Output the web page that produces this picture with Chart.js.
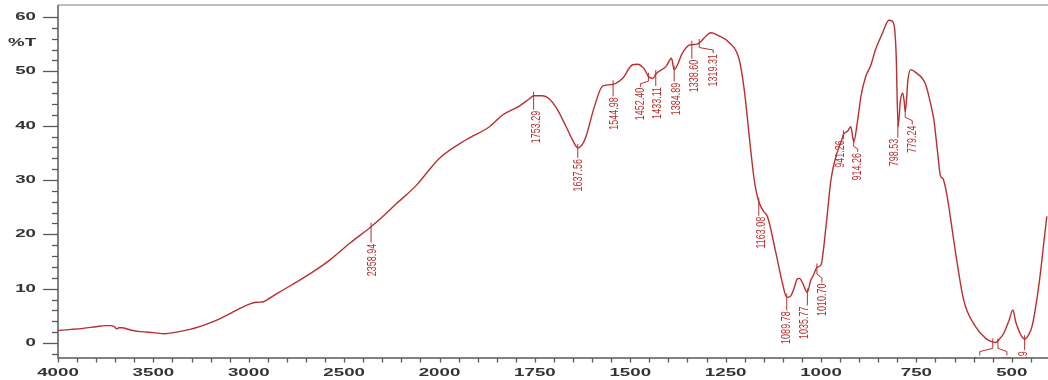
<!DOCTYPE html>
<html><head><meta charset="utf-8">
<script src="https://cdn.jsdelivr.net/npm/chart.js@4.4.1/dist/chart.umd.min.js"></script>
<style>html,body{margin:0;padding:0;background:#fff;overflow:hidden}#wrap{width:1048px;height:380px}</style>
</head><body><div id="wrap"><canvas id="c" width="1048" height="380"></canvas></div>
<script>
// ---- data (wavenumber cm-1, %T) ----
const wavenumbers = [4000,3930,3869,3800,3750,3727,3705,3692,3680,3666,3620,3570,3500,3439,3380,3308,3250,3203,3150,3098,3050,2993,2960,2923,2880,2818,2731,2650,2574,2469,2359,2290,2224,2119,2060,2000,1930,1869,1834,1791,1765,1753,1730,1712,1694,1668,1650,1637,1625,1616,1594,1572,1545,1520,1494,1481,1463,1452,1440,1433,1406,1392,1385,1363,1346,1338,1325,1319,1300,1289,1267,1241,1215,1201,1188,1175,1163,1150,1140,1118,1101,1090,1080,1071,1062,1056,1048,1036,1027,1019,1011,1000,987,974,961,945,941,930,922,914,905,895,883,870,857,839,822,815,808,803,798,792,786,782,779,772,765,752,726,708,704,695,687,680,672,665,647,626,595,569,555,543,530,521,507,497,490,482,474,466,456,447,436,425,416,408];
const transmittance = [2.3,2.5,2.7,3.0,3.2,3.2,3.0,2.6,2.8,2.8,2.4,2.1,1.9,1.7,2.0,2.5,3.1,3.7,4.5,5.4,6.3,7.2,7.5,7.6,8.5,9.8,11.6,13.4,15.3,18.4,21.4,23.5,25.7,29.1,31.6,34.0,37.4,39.8,42.0,43.6,44.9,45.5,45.5,44.9,43.3,39.8,37.2,35.9,36.6,38.0,43.5,47.3,47.6,48.7,51.2,51.3,50.4,49.0,48.7,49.5,50.9,52.4,50.3,53.4,54.8,54.9,55.0,55.2,56.6,57.1,56.5,55.3,52.3,46.5,38.0,30.0,26.0,24.2,23.2,16.5,11.0,8.4,8.6,10.0,11.8,11.9,11.0,9.3,11.5,12.6,13.9,14.4,21.4,30.0,34.3,37.5,38.4,39.0,39.8,37.0,40.5,45.5,49.0,51.0,54.0,57.0,59.4,59.3,58.3,53.0,39.8,44.5,46.0,44.5,42.6,48.5,50.3,49.8,47.6,42.5,41.0,35.5,30.8,30.2,28.0,25.1,16.5,7.9,3.0,0.9,0.3,0.1,0.9,1.8,4.2,6.1,4.0,2.4,1.2,0.7,1.5,3.0,7.2,12.8,18.5,23.3];

const xTickLabels = [4000,3500,3000,2500,2000,1750,1500,1250,1000,750,500];
const yTickLabels = [0,10,20,30,40,50,60];

const peakWaves  = [2358.94,1753.29,1637.56,1544.98,1452.40,1433.11,1384.89,1338.60,1319.31,1163.08,1089.78,1035.77,1010.70,941.26,914.26,798.53,779.24,549.77,536.26,466.19];
const peakLabels = ["2358.94","1753.29","1637.56","1544.98","1452.40","1433.11","1384.89","1338.60","1319.31","1163.08","1089.78","1035.77","1010.70","941.26","914.26","798.53","779.24","549.77","536.26","466.19"];
const peakT      = [21.4,45.5,35.9,47.6,49.0,49.5,50.3,54.9,55.2,26.0,8.4,9.3,13.9,38.4,37.0,39.8,42.6,0.1,0.1,0.7];

// annotation layout: [text dx, text dy] in px relative to the marked point
const peakLayout = [[1,16],[3,14],[1,10],[1,12],[-8,10],[2,12],[2,12],[3,14],[14,10],[3,14],[0,13],[-3,13],[5,15],[-3,5],[4,10],[-3,11],[7,13],[-13,13],[9,13],[-1,11]];

// broken axis: 4000-2000 compressed, 2000-400 expanded x2
function toAxis(w){ return w >= 2000 ? 4000 - w : 2000 + 2*(2000 - w); }

const RED = '#b8302e';
const AXIS = '#5a5a5a';
const TXT = '#333';

function stretchedText(ctx, txt, x, y, sx, align, baseline){
  ctx.save();
  ctx.translate(x, y);
  ctx.scale(sx, 1);
  ctx.textAlign = align; ctx.textBaseline = baseline;
  ctx.fillText(txt, 0, 0);
  ctx.restore();
}

const decor = {
  id: 'decor',
  afterDraw(chart){
    const ctx = chart.ctx, xs = chart.scales.x, ys = chart.scales.y, a = chart.chartArea;
    ctx.save();
    // frame
    ctx.strokeStyle = '#a8a8a8'; ctx.lineWidth = 1.5;
    ctx.beginPath(); ctx.moveTo(a.left, a.top); ctx.lineTo(a.right, a.top); ctx.stroke();
    ctx.strokeStyle = AXIS; ctx.lineWidth = 1.5;
    ctx.beginPath(); ctx.moveTo(a.left, a.top); ctx.lineTo(a.left, a.bottom); ctx.lineTo(a.right, a.bottom); ctx.stroke();
    // y ticks
    ctx.lineWidth = 1.3;
    for (let v = -2; v <= 60; v += 2){
      const y = Math.round(ys.getPixelForValue(v)) + 0.5;
      const len = (v % 10 === 0) ? 15 : 6;
      ctx.beginPath(); ctx.moveTo(a.left - len, y); ctx.lineTo(a.left, y); ctx.stroke();
    }
    ctx.fillStyle = TXT;
    ctx.font = 'bold 11px "Liberation Sans", Arial, sans-serif';
    yTickLabels.forEach(v => {
      stretchedText(ctx, String(v), 36, ys.getPixelForValue(v), 1.7, 'right', 'middle');
    });
    stretchedText(ctx, '%T', 8, ys.getPixelForValue(55.3), 1.7, 'left', 'middle');
    // x ticks
    for (let u = 0; u <= xs.max; u += 100){
      const x = Math.round(xs.getPixelForValue(u)) + 0.5;
      ctx.beginPath(); ctx.moveTo(x, a.bottom); ctx.lineTo(x, a.bottom + 4.5); ctx.stroke();
    }
    xTickLabels.forEach(w => {
      stretchedText(ctx, String(w), xs.getPixelForValue(toAxis(w)), 373, 1.7, 'center', 'middle');
    });
    // peak annotations
    ctx.beginPath(); ctx.rect(a.left, a.top, a.right - a.left, a.bottom - a.top); ctx.clip();
    ctx.strokeStyle = RED; ctx.fillStyle = RED; ctx.lineWidth = 1;
    ctx.font = '9px "Liberation Sans", Arial, sans-serif';
    peakWaves.forEach((w, i) => {
      const px = xs.getPixelForValue(toAxis(w));
      const py = ys.getPixelForValue(peakT[i]);
      const [dx, dy] = peakLayout[i];
      const tx = px + dx, ty = py + dy;
      ctx.beginPath();
      ctx.moveTo(px, py - 4);
      if (Math.abs(dx) > 3){
        ctx.lineTo(px, py + dy*0.45);
        ctx.lineTo(tx, py + dy*0.7);
        ctx.lineTo(tx, ty);
      } else {
        ctx.lineTo(px, ty);
      }
      ctx.stroke();
      ctx.save();
      ctx.translate(tx, ty + 1);
      ctx.scale(1.45, 1);
      ctx.rotate(-Math.PI/2);
      ctx.textAlign = 'right'; ctx.textBaseline = 'middle';
      ctx.fillText(peakLabels[i], 0, 0);
      ctx.restore();
    });
    ctx.restore();
  }
};

new Chart(document.getElementById('c'), {
  type: 'line',
  data: {
    datasets: [{
      data: wavenumbers.map((w, i) => ({x: toAxis(w), y: transmittance[i]})),
      borderColor: RED,
      borderWidth: 1.4,
      pointRadius: 0,
      cubicInterpolationMode: 'monotone',
      fill: false
    }]
  },
  options: {
    responsive: false,
    animation: false,
    devicePixelRatio: 1,
    layout: {padding: {top: 5, right: 0, left: 0, bottom: 0}},
    plugins: {legend: {display: false}, tooltip: {enabled: false}},
    scales: {
      x: {
        type: 'linear', min: 0, max: 5190,
        grid: {display: false}, border: {display: false},
        ticks: {display: false},
        afterFit: s => { s.height = 22; }
      },
      y: {
        type: 'linear', min: -2.76, max: 62.2,
        grid: {display: false}, border: {display: false},
        ticks: {display: false},
        afterFit: s => { s.width = 58; }
      }
    }
  },
  plugins: [decor]
});
</script>
</body></html>
